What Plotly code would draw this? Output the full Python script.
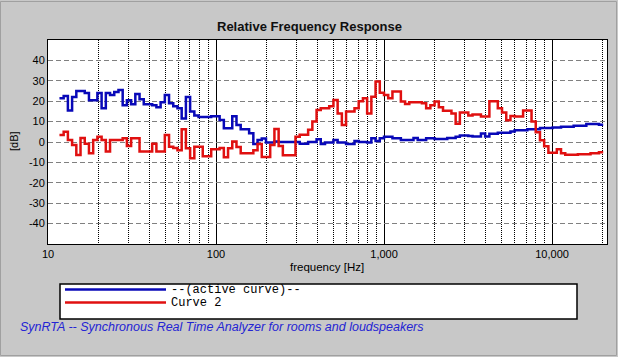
import plotly.graph_objects as go

# 1/12-octave analyzer bands: left band edges in Hz (plus closing edge)
band_edges_hz = [11.7 * 2 ** (k / 12) for k in range(130)]

# Levels in dB per band
active_curve_db = [
    21.5, 22.5, 15.5, 22, 25, 25, 24, 20.5, 20.5, 24,
    16.5, 24, 23, 24.5, 25.5, 18, 20.5, 18.5, 23.5, 21,
    18.5, 18.5, 18, 17, 19.5, 23, 19, 17.5, 16.5, 11.5,
    22, 15, 13, 12.3, 12.3, 12.3, 12.6, 12.6, 10.8, 6.7,
    6.7, 12.6, 8.3, 6.2, 6.2, 4.3, -1, 1, 1.7, -0.3,
    -0.3, 0.2, 0, 0, 0, 0, 0, -0.8, -0.8, 0,
    0, 1.3, -1, -0.3, -0.3, 1, -0.3, -0.3, -1, -1,
    0.5, 0, 0, -0.3, 1.8, 0.5, 1.8, 2.6, 2.6, 1.8,
    1.8, 1, 1, 1, 2, 1, 1, 1.8, 1.8, 1.5,
    1.5, 1.5, 2, 2, 2.6, 3.2, 3.2, 2.9, 2.7, 2.7,
    4.2, 2.7, 4, 4, 4.5, 4.5, 4.5, 5.2, 5.7, 5.7,
    5.7, 6.2, 6.2, 6.2, 6.9, 6.9, 6.9, 7.1, 7.1, 7.5,
    7.5, 7.5, 8, 8, 8, 8.8, 8.8, 8.8, 8.5,
]

curve2_db = [
    3.4, 5, 1, -1.5, -6.4, 2, -0.8, -5.5, 1, 2.6,
    1, -4.7, 1, 1, 1, 1.8, -2, 1.8, 1.8, -4.7,
    -4.7, -4.7, -0.8, -4.7, -4.7, 3.4, -2.3, -3, -4, 6.2,
    -3.1, -8, -2.3, -2.3, -7, -7, -3.5, -3.5, -3, -7.5,
    -3.1, 0.2, -2.5, -5.5, -5.5, -5.5, -4, -1, -7.3, -7.3,
    -1.5, 6.4, -2, -6.5, -6.5, -6.5, 2.6, 3.5, 3.5, 6,
    10, 15.7, 16.5, 16.5, 17.5, 20.6, 14, 8.3, 14.9, 14.9,
    16.5, 20, 21.4, 14, 22.2, 29.6, 24.2, 23, 21.5, 24.7,
    24.7, 19.8, 18.6, 19.5, 19.5, 19.5, 19, 16.5, 18, 19.8,
    17, 15.3, 15.3, 14, 9, 14.5, 14.5, 13, 13.5, 13.5,
    12.5, 12.5, 20, 20, 16.5, 14.5, 10.7, 12.8, 12.5, 12.5,
    15.4, 15.4, 10, 4.8, 0.8, -2.1, -5.3, -5.3, -3.5, -5.5,
    -6.3, -6.3, -6.3, -6, -6, -6, -5.5, -5.5, -5,
]

x_tick_vals = [10, 100, 1000, 10000]
x_tick_text = ["10", "100", "1,000", "10,000"]
y_tick_vals = [-40, -30, -20, -10, 0, 10, 20, 30, 40]
y_tick_text = [str(v) for v in y_tick_vals]

series_names = ["--(active curve)--", "Curve 2"]
series_colors = ["#0808b8", "#e01010"]

W, H = 618, 357
L, R, T, B = 48, 11, 40, 113


def px(x):
    return (x - L) / (W - L - R)


def py(y):
    return (H - B - y) / (H - T - B)


FONT = "Arial, Liberation Sans, sans-serif"

fig = go.Figure()
for vals, name, color in zip([active_curve_db, curve2_db], series_names, series_colors):
    fig.add_trace(go.Scatter(
        x=band_edges_hz,
        y=vals + [vals[-1]],
        mode="lines",
        line=dict(color=color, width=2.5, shape="hv"),
        name=name,
        showlegend=False,
        hoverinfo="skip",
    ))

fig.update_layout(
    width=W, height=H,
    margin=dict(l=L, r=R, t=T, b=B, pad=0),
    paper_bgcolor="#c8c8c8",
    plot_bgcolor="white",
    font=dict(family=FONT, size=11, color="black"),
    xaxis=dict(
        type="log", range=[1, 4.327],
        tickmode="array", tickvals=x_tick_vals, ticktext=x_tick_text,
        showgrid=True, gridcolor="black", gridwidth=1,
        minor=dict(dtick="D1", showgrid=True, gridcolor="black",
                   griddash="1px,1px", gridwidth=1, ticks=""),
        showline=True, linecolor="black", linewidth=1, mirror=True,
        zeroline=False, ticks="", tickfont=dict(size=11),
    ),
    yaxis=dict(
        range=[-50, 50],
        tickmode="array", tickvals=y_tick_vals, ticktext=y_tick_text,
        showgrid=True, gridcolor="#808080", gridwidth=1, griddash="5px,3px",
        showline=True, linecolor="black", linewidth=1, mirror=True,
        zeroline=False, ticks="", tickfont=dict(size=11),
    ),
)

shapes = [
    # outer frame
    dict(type="rect", xref="paper", yref="paper",
         x0=px(0.5), x1=px(616.5), y0=py(355.5), y1=py(1.5),
         line=dict(color="#a0a0a0", width=1), fillcolor="rgba(0,0,0,0)", layer="below"),
    # legend box
    dict(type="rect", xref="paper", yref="paper",
         x0=px(60), x1=px(577), y0=py(319), y1=py(284),
         line=dict(color="black", width=1.5), fillcolor="white"),
]
for i, color in enumerate(series_colors):
    yy = 289.5 + 13 * i
    shapes.append(dict(type="line", xref="paper", yref="paper",
                       x0=px(65), x1=px(166), y0=py(yy), y1=py(yy),
                       line=dict(color=color, width=2.5)))

annotations = [
    dict(text="<b>Relative Frequency Response</b>", x=px(309), y=py(26),
         font=dict(size=13, family=FONT, color="#101010")),
    dict(text="[dB]", x=px(14), y=py(141), textangle=-90,
         font=dict(size=11, family=FONT)),
    dict(text="frequency [Hz]", x=px(327), y=py(267),
         font=dict(size=11.5, family=FONT)),
    dict(text="SynRTA -- Synchronous Real Time Analyzer for rooms and loudspeakers",
         x=px(18), y=py(327), xanchor="left",
         font=dict(size=12.5, family=FONT, color="#2424d4", style="italic")),
]
for i, name in enumerate(series_names):
    annotations.append(dict(text=name, x=px(169), y=py(289.5 + 13 * i), xanchor="left",
                            font=dict(size=12, family="Liberation Mono, Courier New, monospace",
                                      color="black")))
for a in annotations:
    a.setdefault("xref", "paper")
    a.setdefault("yref", "paper")
    a.setdefault("showarrow", False)
    a.setdefault("xanchor", "center")
    a.setdefault("yanchor", "middle")

fig.update_layout(shapes=shapes, annotations=annotations)
fig.write_html("out.html",
               config={"displayModeBar": False, "staticPlot": True},
               post_script="document.body.style.margin='0';document.body.style.padding='0';")
